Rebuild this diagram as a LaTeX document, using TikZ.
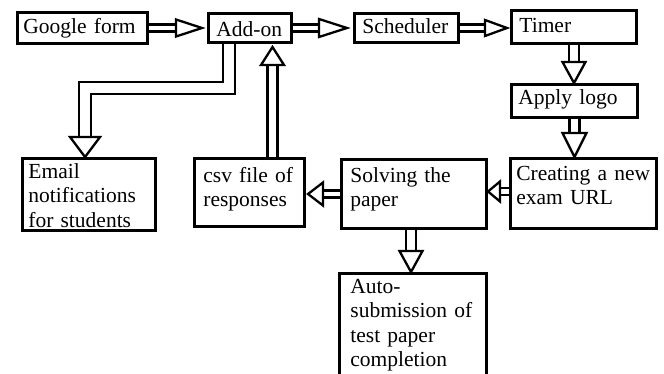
\documentclass[tikz,border=0pt]{standalone}
\usepackage{fontspec}
\setmainfont{Liberation Serif}
\tikzset{
    box/.style={draw, line width=2.8pt, anchor=north west, inner ysep=0pt,
        align=left, font=\fontsize{21.5}{24.5}\selectfont},
    flow/.style={double, double distance=7.5pt, line width=2.3pt,
        line join=miter},
    thin flow/.style={flow, double distance=4.8pt},
    wide flow/.style={flow, double distance=10pt},
    pics/head/.style args={#1/#2}{code={
        \draw[line width=2.3pt, line join=miter, fill=white]
            (0, 0) -- (-#1pt, #2pt/2) -- (-#1pt, -#2pt/2) -- cycle;}},
}
\begin{document}
\begin{tikzpicture}[x=1pt, y=-1pt]
    \useasboundingbox (0, 0) rectangle (664, 374);
    \node[box, inner xsep=6pt, text width=118.2pt, text height=21pt,
        text depth=10.2pt] (gform) at (16, 11) {Google form};
    \node[box, inner xsep=8pt, text width=67.2pt, text height=23pt,
        text depth=6.2pt] (addon) at (207, 12) {Add-on};
    \node[box, inner xsep=8pt, text width=88.2pt, text height=20pt,
        text depth=9.2pt] (sched) at (353, 12) {Scheduler};
    \node[box, inner xsep=8pt, text width=109.2pt, text height=22pt,
        text depth=11.2pt] (timer) at (510, 9) {Timer};
    \node[box, inner xsep=7pt, text width=112.2pt, text height=20pt,
        text depth=13.2pt] (logo) at (510, 83) {Apply logo};
    \node[box, inner xsep=6pt, text width=134.2pt, text height=22pt,
        text depth=48.2pt] (create) at (509, 157) {Creating a new\\exam URL};
    \node[box, inner xsep=9pt, text width=127.2pt, text height=23pt,
        text depth=46.2pt] (solve) at (340, 158) {Solving the\\paper};
    \node[box, inner xsep=9pt, text width=92.2pt, text height=24pt,
        text depth=44.2pt] (csv) at (193, 157) {csv file of\\responses};
    \node[box, inner xsep=6pt, text width=121.2pt, text height=20pt,
        text depth=52.2pt] (email) at (21, 157)
        {Email\\notifications\\for students};
    \node[box, inner xsep=11pt, text width=125.2pt, text height=20pt,
        text depth=100pt] (auto) at (338, 272)
        {Auto-\\submission of\\test paper\\completion};

    \draw[thin flow, shorten >=29pt] (gform.east) -- (addon.west);
    \pic at ([xshift=-5pt]addon.west) {head=26/17};
    \draw[thin flow, shorten >=32pt] (addon.east) -- (sched.west);
    \pic at ([xshift=-6pt]sched.west) {head=28/18};
    \draw[thin flow, shorten >=23pt] (sched.east) -- (sched.east -| timer.west)
        coordinate (t3);
    \pic at ([xshift=-3pt]t3) {head=22/16};
    \draw[flow, shorten >=19pt] (timer.south) -- (timer.south |- logo.north)
        coordinate (t4);
    \pic[rotate=-90] at (t4) {head=21/23};
    \draw[flow, shorten >=22pt] (logo.south) -- (logo.south |- create.north)
        coordinate (t5);
    \pic[rotate=-90] at (t5) {head=24/24};
    \coordinate (c6) at ([yshift=2pt]create.west);
    \draw[thin flow, shorten >=10pt] (c6) -- (c6 -| solve.east) coordinate (t6);
    \pic[rotate=180] at (t6) {head=12/20};
    \draw[thin flow, shorten >=15pt] (solve.west) -- (solve.west -| csv.east)
        coordinate (t7);
    \pic[rotate=180] at ([xshift=2pt]t7) {head=15/23};
    \coordinate (c8) at ([xshift=23pt]csv.north);
    \draw[flow, shorten >=19pt] (c8) -- (c8 |- addon.south) coordinate (t8);
    \pic[rotate=90] at ([yshift=-3pt]t8) {head=18/23};
    \draw[wide flow, shorten >=18pt] ([xshift=-21pt]addon.south) -- ++(0, 44)
        -| ([xshift=-4pt]email.north) coordinate (t9);
    \pic[rotate=-90] at (t9) {head=20/30};
    \coordinate (c10) at ([xshift=-3pt]solve.south);
    \draw[flow, shorten >=19pt] (c10) -- (c10 |- auto.north) coordinate (t10);
    \pic[rotate=-90] at (t10) {head=21/23};
\end{tikzpicture}
\end{document}
